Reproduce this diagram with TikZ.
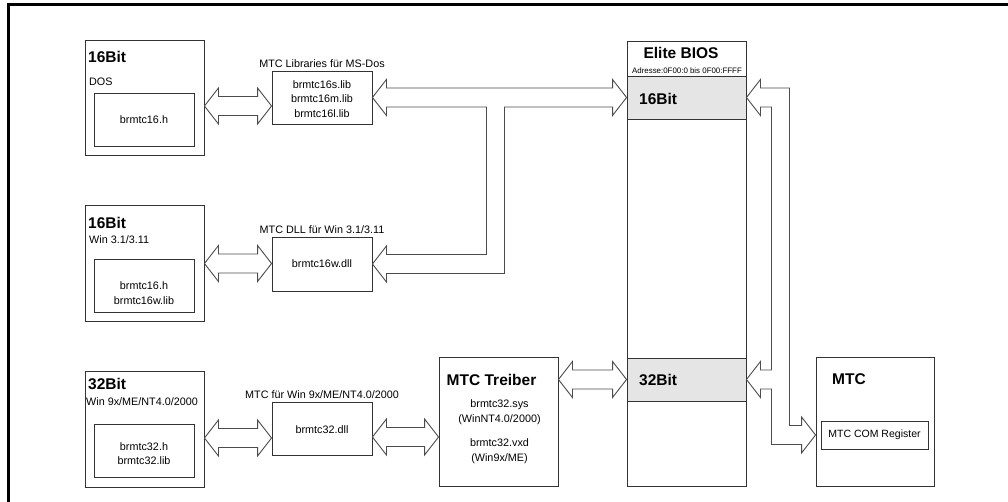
\documentclass[tikz,border=0pt]{standalone}
\usepackage{fontspec}
\setmainfont{Liberation Sans}
\usetikzlibrary{calc}
\newcommand{\bodyf}{\fontsize{10.8}{14.5}\selectfont}
\newcommand{\titlef}{\fontsize{15.5}{18}\selectfont\bfseries}
\newcommand{\smallf}{\fontsize{7.9}{9}\selectfont}
\newcommand{\hdbl}[2]{%
  \draw[barrow] let \p1=#1, \p2=#2 in
    (\x1,\y1) -- (\x1+14pt,\y1+18pt) -- (\x1+14pt,\y1+9.5pt) -- (\x2-14pt,\y1+9.5pt)
    -- (\x2-14pt,\y1+18pt) -- (\x2,\y1) -- (\x2-14pt,\y1-18pt) -- (\x2-14pt,\y1-9.5pt)
    -- (\x1+14pt,\y1-9.5pt) -- (\x1+14pt,\y1-18pt) -- cycle;}
\begin{document}
\begin{tikzpicture}[x=1pt,y=-1pt,
  box/.style={draw=black!80, line width=0.9pt, inner sep=0pt, fill=white},
  band/.style={draw=black!80, line width=0.9pt, inner sep=0pt, fill=black!10},
  barrow/.style={draw=black!70, line width=0.9pt, fill=white, line join=miter},
  txt/.style={inner sep=0pt, font=\bodyf, align=center},
  ttl/.style={inner sep=0pt, font=\titlef, anchor=west},
  sub/.style={inner sep=0pt, font=\bodyf, anchor=west},
  lbl/.style={inner sep=0pt, font=\bodyf, anchor=south, yshift=2.5pt}]
\useasboundingbox (0,0) rectangle (1008,502);
% frame
\draw[line width=3pt, line join=miter] (8.3,502) -- (8.3,4.3) -- (1008,4.3);

% left column
\node[box, minimum width=119pt, minimum height=115pt] (dos) at (144.5,97.5) {};
\node[box, minimum width=100pt, minimum height=53pt] (dosin) at (144,119.5) {};
\node[ttl] (dost) at (88,57) {16Bit};
\node[sub] (doss) at (89,82) {DOS};
\node[txt] (dosx) at (dosin) {brmtc16.h};

\node[box, minimum width=119pt, minimum height=116pt] (win) at (144.5,263) {};
\node[box, minimum width=100pt, minimum height=53pt] (winin) at (144,285.5) {};
\node[ttl] (wint) at (88,223) {16Bit};
\node[sub] (wins) at (89,240) {Win 3.1/3.11};
\node[txt] (winx) at (144,293) {brmtc16.h\\brmtc16w.lib};

\node[box, minimum width=119pt, minimum height=116pt] (w32) at (144.5,429) {};
\node[box, minimum width=100pt, minimum height=53pt] (w32in) at (144,450.5) {};
\node[ttl] (w32t) at (88,384) {32Bit};
\node[sub] (w32s) at (86,402) {Win 9x/ME/NT4.0/2000};
\node[txt] (w32x) at (144,453.5) {brmtc32.h\\brmtc32.lib};

% middle column
\node[box, minimum width=100pt, minimum height=53pt] (lib) at (322,97.5) {};
\node[txt] (libx) at (322,99) {brmtc16s.lib\\brmtc16m.lib\\brmtc16l.lib};
\node[lbl] (libl) at (lib.north) {MTC Libraries für MS-Dos};

\node[box, minimum width=100pt, minimum height=54pt] (dll16) at (322,264) {};
\node[txt] (dll16x) at (dll16) {brmtc16w.dll};
\node[lbl] (dll16l) at (dll16.north) {MTC DLL für Win 3.1/3.11};

\node[box, minimum width=100pt, minimum height=53pt] (dll32) at (322,428.5) {};
\node[txt] (dll32x) at (322,430) {brmtc32.dll};
\node[lbl] (dll32l) at (dll32.north) {MTC für Win 9x/ME/NT4.0/2000};

% Treiber
\node[box, minimum width=119pt, minimum height=129pt] (tr) at (498.5,421.5) {};
\node[inner sep=0pt, font=\titlef] (trt) at (491.5,380) {MTC Treiber};
\node[txt] (tra) at (499.5,412) {brmtc32.sys\\(WinNT4.0/2000)};
\node[txt] (trb) at (499.5,451) {brmtc32.vxd\\(Win9x/ME)};

% BIOS
\node[box, minimum width=119pt, minimum height=445pt] (bios) at (686.5,263.5) {};
\node[band, minimum width=119pt, minimum height=43pt] (b16) at (686.5,97.5) {};
\node[band, minimum width=119pt, minimum height=43pt] (b32) at (686.5,379.5) {};
\node[inner sep=0pt, font=\titlef] (biost) at (681,53) {Elite BIOS};
\node[inner sep=0pt, font=\smallf] (biosa) at (687,71) {Adresse:0F00:0 bis 0F00:FFFF};
\node[ttl] (b16t) at (639,99) {16Bit};
\node[ttl] (b32t) at (639,380) {32Bit};

% MTC
\node[box, minimum width=118pt, minimum height=129pt] (mtc) at (875,421.5) {};
\node[ttl] (mtct) at (832,379) {MTC};
\node[box, minimum width=107pt, minimum height=28pt, font=\fontsize{10.5}{12}\selectfont] (com) at (874.5,435) {MTC COM Register};

% simple double arrows
\hdbl{(dos.east |- 0,106)}{(lib.west |- 0,106)}
\hdbl{(win.east |- 0,263.5)}{(dll16.west |- 0,263.5)}
\hdbl{(w32.east |- 0,438)}{(dll32.west |- 0,438)}
\hdbl{(dll32.east |- 0,437)}{(tr.west |- 0,437)}
\hdbl{(tr.east |- b32.west)}{(b32.west)}

% T arrow: libs / dll16 <-> BIOS 16Bit
\coordinate (tv) at (495.5,0);
\draw[barrow] let \p1=(lib.east), \p2=(b16.west), \p3=(dll16.east), \p4=(tv) in
  (\x1,\y1) -- (\x1+14pt,\y1+18pt) -- (\x1+14pt,\y1+9.5pt) -- (\x2-14pt,\y1+9.5pt)
  -- (\x2-14pt,\y1+18pt) -- (\x2,\y1) -- (\x2-14pt,\y1-18pt) -- (\x2-14pt,\y1-9.5pt)
  -- (\x4+9pt,\y1-9.5pt) -- (\x4+9pt,\y3-9.5pt) -- (\x3+14pt,\y3-9.5pt)
  -- (\x3+14pt,\y3-18pt) -- (\x3,\y3) -- (\x3+14pt,\y3+18pt) -- (\x3+14pt,\y3+9.5pt)
  -- (\x4-9pt,\y3+9.5pt) -- (\x4-9pt,\y1-9.5pt) -- (\x1+14pt,\y1-9.5pt)
  -- (\x1+14pt,\y1-18pt) -- cycle;

% right arrow: BIOS 16Bit / 32Bit <-> MTC COM Register
\coordinate (rv) at (780.5,0);
\draw[barrow] let \p1=(b16.east), \p2=(b32.east), \p3=(mtc.west |- com.west), \p4=(rv) in
  (\x1,\y1) -- (\x1+14pt,\y1+18pt) -- (\x1+14pt,\y1+9.5pt) -- (\x4+9pt,\y1+9.5pt)
  -- (\x4+9pt,\y3+9.5pt) -- (\x3-14pt,\y3+9.5pt) -- (\x3-14pt,\y3+18pt) -- (\x3,\y3)
  -- (\x3-14pt,\y3-18pt) -- (\x3-14pt,\y3-9.5pt) -- (\x4-9pt,\y3-9.5pt)
  -- (\x4-9pt,\y2-9.5pt) -- (\x2+14pt,\y2-9.5pt) -- (\x2+14pt,\y2-18pt) -- (\x2,\y2)
  -- (\x2+14pt,\y2+18pt) -- (\x2+14pt,\y2+9.5pt) -- (\x4-9pt,\y2+9.5pt)
  -- (\x4-9pt,\y1-9.5pt) -- (\x1+14pt,\y1-9.5pt) -- (\x1+14pt,\y1-18pt) -- cycle;
\end{tikzpicture}
\end{document}
